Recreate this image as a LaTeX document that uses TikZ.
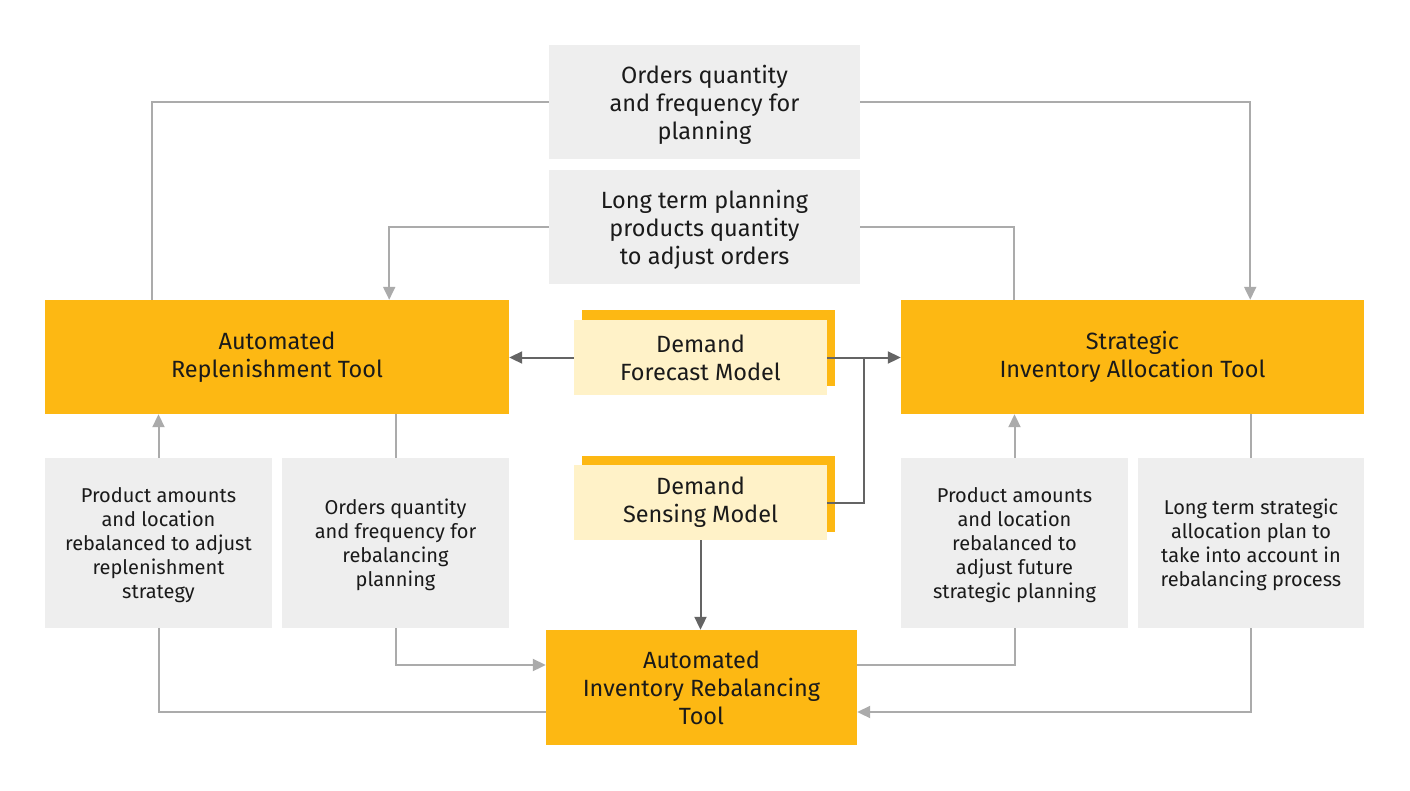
\documentclass[tikz,border=0pt]{standalone}
\usepackage{fontspec}
\setmainfont{Fira Sans}
\usetikzlibrary{arrows.meta}
\definecolor{orng}{HTML}{FDB813}
\definecolor{pale}{HTML}{FFF2C8}
\definecolor{boxgray}{HTML}{EEEEEE}
\definecolor{lgray}{HTML}{ABABAB}
\definecolor{dgray}{HTML}{646464}
\definecolor{txt}{HTML}{1A1A1A}
\begin{document}
\begin{tikzpicture}[x=1pt,y=-1pt,
  box/.style={inner sep=0pt, align=center, anchor=center, text=txt},
  bigbox/.style={box, fill=boxgray, minimum width=311pt, minimum height=114pt, text depth=0pt, font=\fontsize{23.5}{28}\selectfont},
  toolbox/.style={box, fill=orng, minimum height=114pt, font=\fontsize{23.5}{28}\selectfont},
  modelback/.style={box, fill=orng, minimum width=253pt, minimum height=76pt},
  modelbox/.style={box, fill=pale, minimum width=253pt, minimum height=75pt, font=\fontsize{23.5}{28}\selectfont},
  smallbox/.style={box, fill=boxgray, minimum height=170pt, text depth=-2pt, font=\fontsize{20}{24}\selectfont},
  gl/.style={draw=lgray, line width=2pt},
  dl/.style={draw=dgray, line width=2pt},
  tip/.style={-{Triangle[length=13pt,width=12pt]}}
]
\useasboundingbox (0,0) rectangle (1410,790);

\node[bigbox] (o1) at (704.5,102) {Orders quantity\\and frequency for\\planning};
\node[bigbox] (o2) at (704.5,227) {Long term planning\\products quantity\\to adjust orders};

\node[toolbox, minimum width=464pt] (rep) at (277,357) {Automated\\Replenishment Tool};
\node[toolbox, minimum width=463pt] (strat) at (1132.5,357) {Strategic\\Inventory Allocation Tool};

\node[modelback] (fcback) at (708.5,348) {};
\node[modelbox] (fc) at (700.5,357.5) {Demand\\Forecast Model};
\node[modelback] (sback) at (708.5,493.5) {};
\node[modelbox] (s) at (700.5,502.5) {Demand\\Sensing Model};

\node[smallbox, minimum width=227pt] (A) at (158.5,543) {Product amounts\\and location\\rebalanced to adjust\\replenishment\\strategy};
\node[smallbox, minimum width=227pt] (B) at (395.5,543) {Orders quantity\\and frequency for\\rebalancing\\planning};
\node[smallbox, minimum width=227pt] (C) at (1014.5,543) {Product amounts\\and location\\rebalanced to\\adjust future\\strategic planning};
\node[smallbox, minimum width=226pt] (D) at (1251,543) {Long term strategic\\allocation plan to\\take into account in\\rebalancing process};

\node[toolbox, minimum width=311pt, minimum height=115pt, text depth=-2pt] (reb) at (701.5,687.5) {Automated\\Inventory Rebalancing\\Tool};

% light gray connectors
\draw[gl] (o1.west) -| ([xshift=107pt]rep.north west);
\draw[gl,tip] (o1.east) -| ([xshift=-114pt]strat.north east);
\draw[gl,tip] (o2.west) -| ([xshift=-120pt]rep.north east);
\draw[gl] (o2.east) -| ([xshift=113pt]strat.north west);
\draw[gl,tip] (A.north) -- (A.north |- rep.south);
\draw[gl] (B.north |- rep.south) -- (B.north);
\draw[gl] (A.south) |- ([yshift=-24.5pt]reb.west);
\draw[gl,tip] (B.south) |- ([yshift=22.5pt]reb.west);
\draw[gl,tip] (C.north) -- (C.north |- strat.south);
\draw[gl] (D.north |- strat.south) -- (D.north);
\draw[gl] (C.south) |- ([yshift=22.5pt]reb.east);
\draw[gl,tip] (D.south) |- ([yshift=-24.5pt]reb.east);

% dark connectors
\draw[dl,tip] (fc.west) -- (fc.west -| rep.east);
\draw[dl,tip] (fc.east) -- (fc.east -| strat.west);
\draw[dl] (s.east) -| ([xshift=37pt]fc.east);
\draw[dl,tip] (s.south) -- (s.south |- reb.north);
\end{tikzpicture}
\end{document}
